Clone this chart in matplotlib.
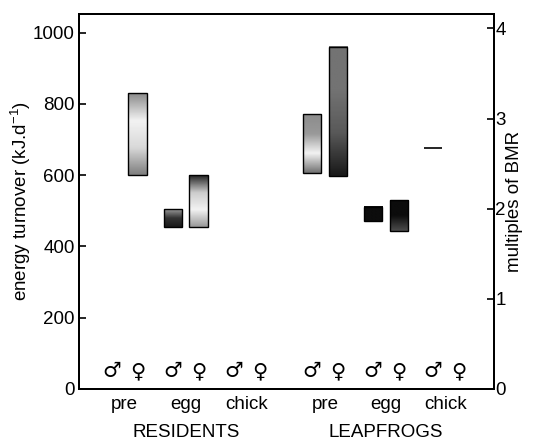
import numpy as np
import matplotlib
matplotlib.use("Agg")
import matplotlib.pyplot as plt

plt.rcParams['font.family'] = ['Liberation Sans', 'DejaVu Sans']

# data (kJ/d)
stages = ["pre", "egg", "chick", "pre", "egg", "chick"]
groups = ["RESIDENTS", "LEAPFROGS"]
male_low = [np.nan, 455, np.nan, 607, 470, 675]
male_high = [np.nan, 505, np.nan, 772, 510, 675]
female_low = [600, 455, np.nan, 597, 443, np.nan]
female_high = [830, 600, np.nan, 960, 530, np.nan]
bmr = 253.0  # kJ/d per multiple of BMR

# layout
xpos = np.array([0, 1, 2, 3.28, 4.28, 5.26])
off = 0.21
w = 0.3

# grey gradients (top -> bottom) for each bar, 0 black / 1 white
male_shade = [None, [0.6, 0.2, 0.1], None, [0.55, 0.6, 0.95, 0.45],
              [0.05, 0.05], None]
female_shade = [[0.55, 0.95, 0.85, 0.5], [0.15, 0.8, 0.95, 0.6], None,
                [0.45, 0.45, 0.35, 0.1], [0.05, 0.05, 0.3], None]

fs = 13.5

fig = plt.figure(figsize=(5.34, 4.45), dpi=100)
ax = fig.add_axes([0.148, 0.126, 0.777, 0.843])


def draw_bar(x, lo, hi, shade):
    if np.isnan(lo):
        return
    if hi - lo < 5:
        ax.hlines(lo, x - w / 2, x + w / 2, color="black", lw=1.2, zorder=3)
        return
    grad = np.interp(np.linspace(0, 1, 50), np.linspace(0, 1, len(shade)), shade)
    ax.imshow(grad.reshape(-1, 1), extent=[x - w / 2, x + w / 2, lo, hi],
              aspect="auto", cmap="gray", vmin=0, vmax=1, zorder=2,
              interpolation="bilinear")
    ax.add_patch(plt.Rectangle((x - w / 2, lo), w, hi - lo, fill=False,
                               ec="black", lw=1.0, zorder=3))


for i in range(len(stages)):
    draw_bar(xpos[i] - off, male_low[i], male_high[i], male_shade[i])
    draw_bar(xpos[i] + off, female_low[i], female_high[i], female_shade[i])
    ax.text(xpos[i] - off, 50, "\u2642", ha="center", va="center",
            fontsize=15, family="DejaVu Sans")
    ax.text(xpos[i] + off, 50, "\u2640", ha="center", va="center",
            fontsize=15, family="DejaVu Sans")

ax.set_xlim(-0.75, 6.05)
ax.set_ylim(0, 1053)
ax.set_xticks(xpos)
ax.set_xticklabels(stages, fontsize=fs)
ax.tick_params(axis="x", length=0, pad=5)
ax.set_yticks([0, 200, 400, 600, 800, 1000])
ax.tick_params(axis="y", direction="in", length=5, width=1.2, labelsize=fs, pad=3)
ax.set_ylabel("energy turnover (kJ.d$^{\\mathregular{-1}}$)", fontsize=fs, labelpad=0)

for s in ax.spines.values():
    s.set_linewidth(1.4)

ax.text(xpos[1], -0.115, groups[0], transform=ax.get_xaxis_transform(),
        ha="center", va="center", fontsize=fs)
ax.text(xpos[4], -0.115, groups[1], transform=ax.get_xaxis_transform(),
        ha="center", va="center", fontsize=fs)

ax2 = ax.twinx()
ax2.set_ylim(0, 1053 / bmr)
ax2.set_yticks([0, 1, 2, 3, 4])
ax2.tick_params(axis="y", direction="in", length=5, width=1.2, labelsize=fs, pad=1)
ax2.set_ylabel("multiples of BMR", fontsize=fs, labelpad=0)
for s in ax2.spines.values():
    s.set_linewidth(1.4)

fig.savefig("out.png", dpi=100)
